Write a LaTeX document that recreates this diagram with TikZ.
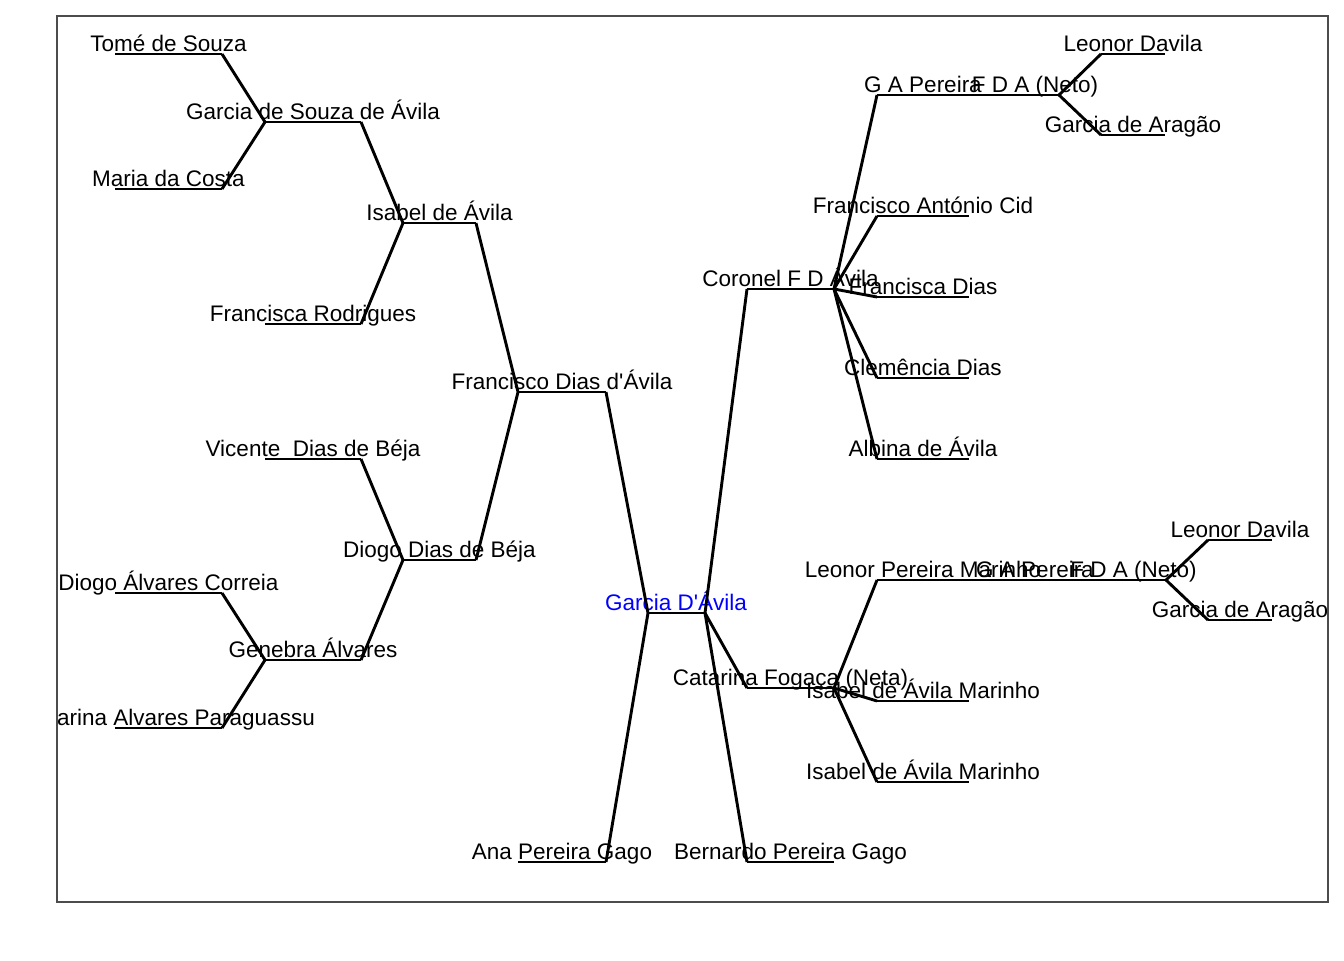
\documentclass[tikz,border=0pt]{standalone}
\usepackage{fontspec}
\setmainfont{Liberation Sans}
\usepackage{tikz}
\tikzstyle{ln}=[draw=black, line width=1.45pt, line cap=butt, line join=miter]
\tikzstyle{lbl}=[anchor=base, inner sep=0pt, text=black]
\tikzstyle{frame}=[draw=black!70, line width=0.65pt]

\begin{document}
\begin{tikzpicture}[x=0.5pt, y=-0.5pt, font=\fontsize{11.25}{13.5}\selectfont]
\useasboundingbox (0,0) rectangle (1344,960);

\begin{scope}
\clip (57,16) rectangle (1328,902);

% root
\coordinate (gda-l) at (648,613);
\coordinate (gda-r) at (705,613);
\draw[ln] (gda-l) -- (gda-r);
\node[lbl, text=blue] (gda) at (676,610) {Garcia D\textquotesingle Ávila};

% ancestors and descendants: name / left / right / y / text
\foreach \n/\a/\b/\y/\t in {
  fda/518/606/392/{Francisco Dias d\textquotesingle Ávila},
  apg/518/606/862/{Ana Pereira Gago},
  ida/403/476/223/{Isabel de Ávila},
  ddb/403/476/560/{Diogo Dias de Béja},
  gsa/265/361/122/{Garcia de Souza de Ávila},
  fro/265/361/324/{Francisca Rodrigues},
  vdb/265/361/459/{Vicente\ \ Dias de Béja},
  gal/265/361/660/{Genebra Álvares},
  tso/115/222/54/{Tomé de Souza},
  mco/115/222/189/{Maria da Costa},
  dac/115/222/593/{Diogo Álvares Correia},
  cap/115/222/728/{Catarina Alvares Paraguassu},
  cfd/747/834/289/{Coronel F D Ávila},
  cfn/747/834/688/{Catarina Fogaça (Neta)},
  bpg/747/834/862/{Bernardo Pereira Gago},
  gapa/877/969/95/{G A Pereira},
  fac/877/969/216/{Francisco António Cid},
  fdi/877/969/297/{Francisca Dias},
  cdi/877/969/378/{Clemência Dias},
  aav/877/969/459/{Albina de Ávila},
  fdna/1011/1059/95/{F D A (Neto)},
  ldva/1101/1165/54/{Leonor Davila},
  gara/1101/1165/135/{Garcia de Aragão},
  lpm/877/969/580/{Leonor Pereira Marinho},
  iama/877/969/701/{Isabel de Ávila Marinho},
  iamb/877/969/782/{Isabel de Ávila Marinho},
  gapb/1011/1059/580/{G A Pereira},
  fdnb/1101/1166/580/{F D A (Neto)},
  ldvb/1208/1272/540/{Leonor Davila},
  garb/1208/1272/620/{Garcia de Aragão}}
{
  \coordinate (\n-l) at (\a,\y);
  \coordinate (\n-r) at (\b,\y);
  \draw[ln] (\n-l) -- (\n-r);
  \node[lbl] (\n) at ({(\a+\b)/2},\y-3) {\t};
}

% parents
\draw[ln] (fda-r) -- (gda-l) -- (apg-r);
\draw[ln] (ida-r) -- (fda-l) -- (ddb-r);
\draw[ln] (gsa-r) -- (ida-l) -- (fro-r);
\draw[ln] (vdb-r) -- (ddb-l) -- (gal-r);
\draw[ln] (tso-r) -- (gsa-l) -- (mco-r);
\draw[ln] (dac-r) -- (gal-l) -- (cap-r);

% children
\foreach \c in {cfd,cfn,bpg} \draw[ln] (gda-r) -- (\c-l);
\foreach \c in {gapa,fac,fdi,cdi,aav} \draw[ln] (cfd-r) -- (\c-l);
\draw[ln] (gapa-r) -- (fdna-l);
\draw[ln] (ldva-l) -- (fdna-r) -- (gara-l);
\foreach \c in {lpm,iama,iamb} \draw[ln] (cfn-r) -- (\c-l);
\draw[ln] (lpm-r) -- (gapb-l);
\draw[ln] (gapb-r) -- (fdnb-l);
\draw[ln] (ldvb-l) -- (fdnb-r) -- (garb-l);
\end{scope}

\draw[frame] (57,16) rectangle (1328,902);

\end{tikzpicture}
\end{document}
